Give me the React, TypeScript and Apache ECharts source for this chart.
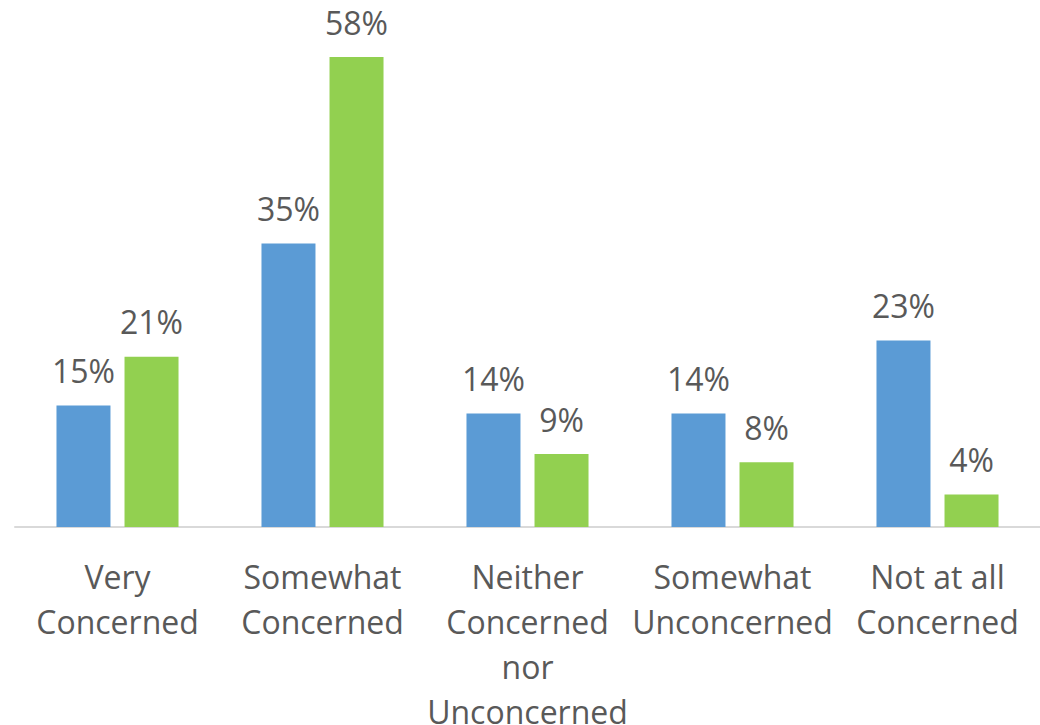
import React, { useEffect, useRef } from "react";
import * as echarts from "echarts";

const categories = [
  "Very\nConcerned",
  "Somewhat\nConcerned",
  "Neither\nConcerned\nnor\nUnconcerned",
  "Somewhat\nUnconcerned",
  "Not at all\nConcerned",
];
const seriesA = [15, 35, 14, 14, 23];
const seriesB = [21, 58, 9, 8, 4];

const FONT = "'Open Sans', 'Noto Sans', sans-serif";
const TEXT = "#595959";

export default function App() {
  const ref = useRef<HTMLDivElement>(null);
  useEffect(() => {
    if (!ref.current) return;
    const chart = echarts.init(ref.current, undefined, { renderer: "svg" });
    const label = {
      show: true,
      position: "top" as const,
      distance: 19,
      formatter: "{c}%",
      color: TEXT,
      fontSize: 32,
      fontFamily: FONT,
    };
    chart.setOption({
      animation: false,
      backgroundColor: "#ffffff",
      grid: {
        left: 15,
        right: 0,
        top: 57,
        bottom: 198,
        containLabel: false,
        outerBoundsMode: "none",
      },
      xAxis: {
        type: "category",
        data: categories,
        axisLine: { show: true, lineStyle: { color: "#d9d9d9", width: 2 } },
        axisTick: { show: false },
        axisLabel: {
          color: TEXT,
          fontSize: 32,
          fontFamily: FONT,
          lineHeight: 45,
          margin: 27,
          interval: 0,
        },
      },
      yAxis: {
        type: "value",
        min: 0,
        max: 58,
        show: false,
        splitLine: { show: false },
      },
      series: [
        {
          type: "bar",
          data: seriesA,
          barWidth: 54,
          barGap: "26%",
          itemStyle: { color: "#5B9BD5" },
          label,
        },
        {
          type: "bar",
          data: seriesB,
          barWidth: 54,
          barGap: "26%",
          itemStyle: { color: "#92D050" },
          label,
        },
      ],
    });
    return () => chart.dispose();
  }, []);
  return <div ref={ref} style={{ width: 1040, height: 725, position: "absolute", left: 0, top: 0 }} />;
}
